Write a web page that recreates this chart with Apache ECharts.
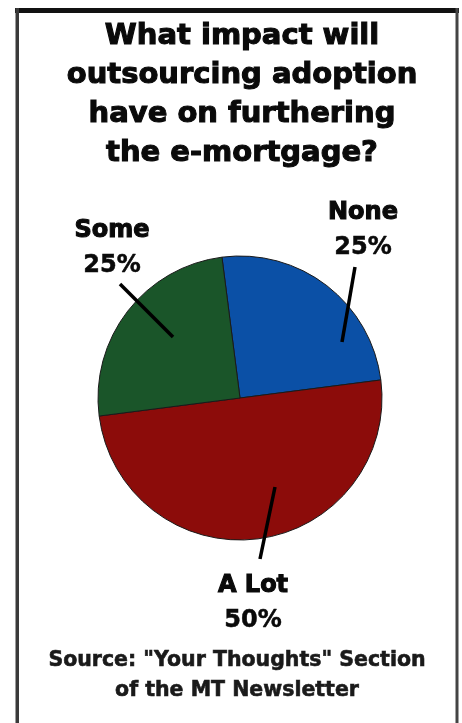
<!DOCTYPE html>
<html>
<head>
<meta charset="utf-8">
<script src="https://cdn.jsdelivr.net/npm/echarts@6/dist/echarts.min.js"></script>
<style>
html,body{margin:0;padding:0;background:#fff;}
#chart{width:462px;height:723px;}
</style>
</head>
<body>
<div id="chart"></div>
<script>
// ---- data ----
const titleLines = ["What impact will", "outsourcing adoption", "have on furthering", "the e-mortgage?"];
const categories = ["None", "A Lot", "Some"];
const values = [25, 50, 25];
const sourceLines = ["Source: \"Your Thoughts\" Section", "of the MT Newsletter"];

// ---- styling / layout ----
const sliceColors = ["#0b50a6", "#8c0c0a", "#1a5529"];
const labelAnchors = [[363, 230], [253, 603], [112, 248]];
const leaderLines = [
  [[342, 342], [355, 267]],
  [[275, 487], [260, 559]],
  [[173, 337], [120, 284]]
];
const FONT = "DejaVu Sans";

const heavy = (size, lh, col) => ({
  fontFamily: FONT, fontWeight: 'bold', fontSize: size, lineHeight: lh, color: col,
  textBorderColor: col, textBorderWidth: 1.1
});

const chart = echarts.init(document.getElementById('chart'));
chart.setOption({
  backgroundColor: '#ffffff',
  animation: false,
  title: [{
    text: titleLines.join('\n'),
    left: 237,
    top: 12,
    textAlign: 'center',
    textStyle: heavy(29, 39, '#0a0a0a')
  }, {
    text: sourceLines.join('\n'),
    left: 232,
    top: 641,
    textAlign: 'center',
    textStyle: Object.assign(heavy(20.5, 30, '#1a1a1a'), {textBorderWidth: 0.6})
  }],
  graphic: [
    {type: 'rect', shape: {x: 15, y: 8, width: 444, height: 5}, style: {fill: '#111'}},
    {type: 'rect', shape: {x: 15.5, y: 8, width: 3.5, height: 715}, style: {fill: '#3a3a3a'}},
    {type: 'rect', shape: {x: 455.5, y: 8, width: 3, height: 715}, style: {fill: '#444'}}
  ].concat(leaderLines.map(pts => ({
    type: 'line', z: 100,
    shape: {x1: pts[0][0], y1: pts[0][1], x2: pts[1][0], y2: pts[1][1]},
    style: {stroke: '#000', lineWidth: 3.5}
  }))),
  series: [{
    type: 'pie',
    center: [240, 398],
    radius: 142,
    startAngle: 97.3,
    clockwise: true,
    avoidLabelOverlap: false,
    data: categories.map((c, i) => ({name: c, value: values[i], itemStyle: {color: sliceColors[i]}})),
    itemStyle: {borderColor: '#1a1a1a', borderWidth: 1},
    emphasis: {disabled: true},
    label: {
      show: true,
      position: 'outside',
      formatter: '{n|{b}}\n{p|{d}%}',
      align: 'center',
      verticalAlign: 'middle',
      rich: {
        n: Object.assign(heavy(24, 35, '#0a0a0a'), {align: 'center'}),
        p: Object.assign(heavy(24, 35, '#0a0a0a'), {align: 'center', textBorderWidth: 0.5})
      }
    },
    labelLine: {show: false},
    labelLayout: function (params) {
      const i = params.dataIndex;
      return {
        x: labelAnchors[i][0],
        y: labelAnchors[i][1],
        align: 'center',
        verticalAlign: 'middle'
      };
    }
  }]
});
</script>
</body>
</html>
